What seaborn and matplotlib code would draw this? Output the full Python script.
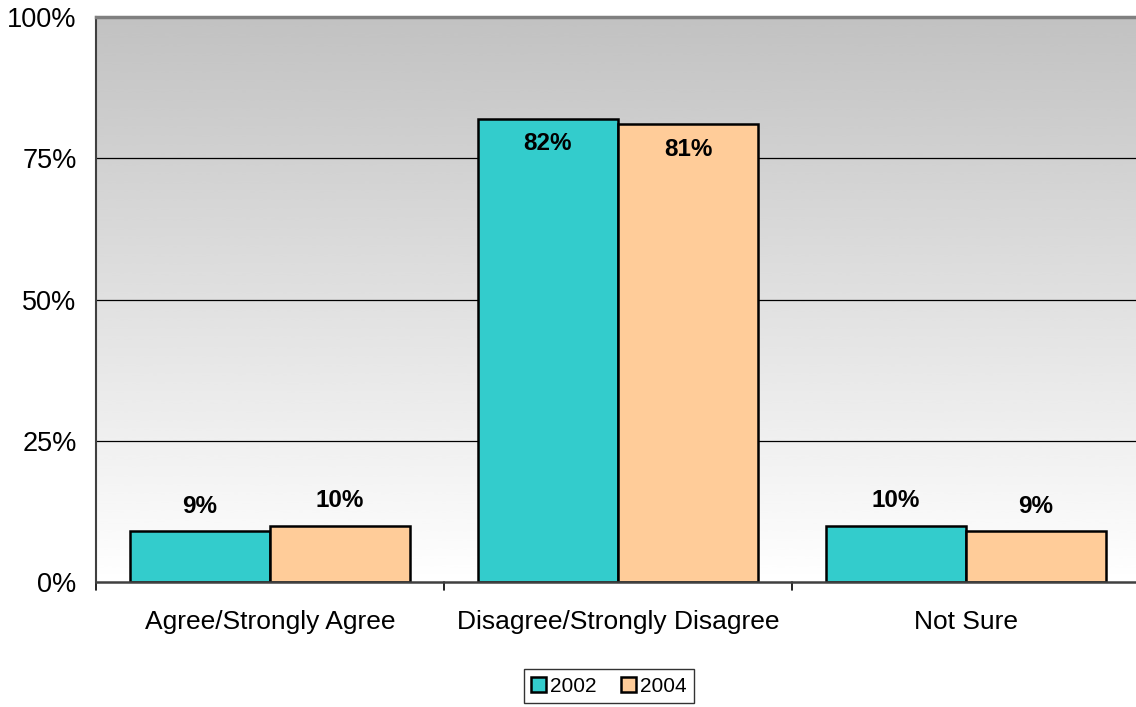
import numpy as np
import pandas as pd
import matplotlib
matplotlib.use("Agg")
import matplotlib.pyplot as plt
from matplotlib.patches import Patch
import seaborn as sns

# Survey responses, share of respondents (%)
categories = ["Agree/Strongly Agree", "Disagree/Strongly Disagree", "Not Sure"]
years = ["2002", "2004"]
values_2002 = [9, 82, 10]
values_2004 = [10, 81, 9]
yticks = [0, 25, 50, 75, 100]

colors = {"2002": "#33CCCC", "2004": "#FFCC99"}

df = pd.DataFrame({
    "category": categories * 2,
    "year": [years[0]] * 3 + [years[1]] * 3,
    "value": values_2002 + values_2004,
})

sns.set_theme(style="white")
plt.rcParams["font.family"] = ["Liberation Sans", "DejaVu Sans"]
plt.rcParams["text.color"] = "black"
plt.rcParams["xtick.color"] = "black"
plt.rcParams["ytick.color"] = "black"

fig = plt.figure(figsize=(11.36, 7.07), dpi=100)
ax = fig.add_axes([96 / 1136, (707 - 582) / 707, 1044 / 1136, 565 / 707])

# vertical gray (top) to white (bottom) gradient behind the bars
grad = np.linspace(0.76, 1.0, 256).reshape(-1, 1)
ax.imshow(grad, cmap="gray", vmin=0, vmax=1, aspect="auto", origin="upper",
          extent=[-0.5, 2.5, 0, 100], zorder=0, interpolation="bicubic")

sns.barplot(data=df, x="category", y="value", hue="year", palette=colors,
            order=categories, hue_order=years, width=0.805, gap=0,
            edgecolor="black", linewidth=1.8, saturation=1, ax=ax,
            legend=False, zorder=3)

ax.set_xlim(-0.5, 2.5)
ax.set_ylim(0, 100)
ax.set_yticks(yticks)
ax.set_yticklabels([f"{t}%" for t in yticks], fontsize=19.5, color="black")
ax.tick_params(axis="y", length=0, pad=14, labelcolor="black")
ax.set_xticks(range(len(categories)))
ax.set_xticklabels(categories, fontsize=19, color="black")
ax.tick_params(axis="x", length=0, pad=20, labelcolor="black")
ax.set_xlabel("")
ax.set_ylabel("")

# category separators below the axis line
for b in [-0.5, 0.5, 1.5]:
    ax.plot([b, b], [0, -1.5], color="black", lw=1.2, clip_on=False, zorder=5)

for y in yticks[1:-1]:
    ax.axhline(y, color="black", lw=0.9, zorder=1)

ax.spines["right"].set_visible(False)
ax.spines["top"].set_color("#808080")
ax.spines["top"].set_linewidth(2.5)
ax.spines["left"].set_color("#404040")
ax.spines["left"].set_linewidth(1.5)
ax.spines["bottom"].set_color("#404040")
ax.spines["bottom"].set_linewidth(1.8)
for s in ax.spines.values():
    s.set_zorder(6)

# value labels: above short bars, inside the top of tall bars
for bar_container, vals in zip(ax.containers, [values_2002, values_2004]):
    for bar, v in zip(bar_container, vals):
        x = bar.get_x() + bar.get_width() / 2
        off = -25 if v > 50 else 25
        ax.annotate(f"{v}%", (x, v), xytext=(0, off), textcoords="offset pixels",
                    ha="center", va="center", fontsize=17.5, fontweight="bold",
                    color="black", zorder=7)

handles = [Patch(facecolor=colors[y], edgecolor="black", linewidth=1.8, label=y) for y in years]
leg = fig.legend(handles=handles, loc="center", bbox_to_anchor=(609 / 1136, 1 - 686 / 707),
                 ncol=2, frameon=True, fontsize=15, handlelength=0.7, handleheight=0.7,
                 handletextpad=0.2, columnspacing=1.2, borderpad=0.35, fancybox=False,
                 labelcolor="black")
leg.get_frame().set_edgecolor("black")
leg.get_frame().set_linewidth(1.0)

fig.savefig("out.png", dpi=100)
